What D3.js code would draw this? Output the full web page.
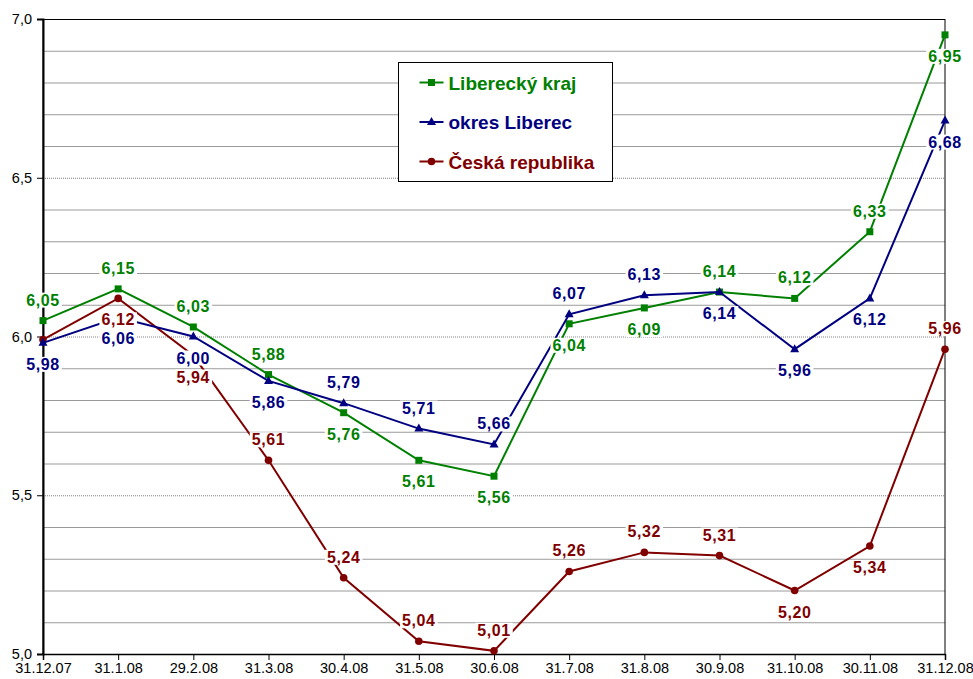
<!DOCTYPE html>
<html>
<head>
<meta charset="utf-8">
<script src="https://cdn.jsdelivr.net/npm/d3@7"></script>
<style>
    body { margin: 0; background: #fff; }
    svg { font-family: "Liberation Sans", Arial, sans-serif; }
    .axis path, .axis line { stroke: #000; }
    .axis text { font-size: 14.5px; fill: #000; }
    .minor { stroke: #9a9a9a; stroke-width: 1; }
    .major { stroke: #808080; stroke-width: 1; stroke-dasharray: 1,1; }
    .val { font-size: 16px; font-weight: bold; letter-spacing: 0.6px; }
</style>
</head>
<body>
<div id="chart"></div>
<script>
const dates = ['31.12.07', '31.1.08', '29.2.08', '31.3.08', '30.4.08', '31.5.08', '30.6.08',
    '31.7.08', '31.8.08', '30.9.08', '31.10.08', '30.11.08', '31.12.08'];
const krajValues = [6.05, 6.15, 6.03, 5.88, 5.76, 5.61, 5.56, 6.04, 6.09, 6.14, 6.12, 6.33, 6.95];
const okresValues = [5.98, 6.06, 6.00, 5.86, 5.79, 5.71, 5.66, 6.07, 6.13, 6.14, 5.96, 6.12, 6.68];
const crValues = [5.99, 6.12, 5.94, 5.61, 5.24, 5.04, 5.01, 5.26, 5.32, 5.31, 5.20, 5.34, 5.96];
const yTicks = [5.0, 5.5, 6.0, 6.5, 7.0];
const seriesNames = ['Liberecký kraj', 'okres Liberec', 'Česká republika'];

// where each value label sits: a = above, b = below, n = hidden
const krajSide = ['a', 'a', 'a', 'a', 'b', 'b', 'b', 'b', 'b', 'a', 'a', 'a', 'b'];
const okresSide = ['b', 'b', 'b', 'b', 'a', 'a', 'a', 'a', 'a', 'b', 'b', 'b', 'b'];
const crSide = ['n', 'b', 'b', 'a', 'a', 'a', 'a', 'a', 'a', 'a', 'b', 'b', 'a'];

const W = 973, H = 679;
const plotLeft = 43, plotRight = 945, plotTop = 19, plotBottom = 654;

const svg = d3.select('#chart').append('svg')
    .attr('width', W)
    .attr('height', H);

const xScale = d3.scalePoint().domain(dates).range([plotLeft, plotRight]);
const yScale = d3.scaleLinear().domain([5, 7]).range([plotBottom, plotTop]);
const fmt = v => d3.format('.2f')(v).replace('.', ',');

// gridlines every 0.1, dotted at labelled values
const grid = svg.append('g');
d3.range(51, 70).map(d => d / 10).forEach(v => {
    const isMajor = Math.abs(v * 2 - Math.round(v * 2)) < 1e-6;
    grid.append('line')
        .attr('class', isMajor ? 'major' : 'minor')
        .attr('x1', plotLeft).attr('x2', plotRight)
        .attr('y1', yScale(v) + 0.5).attr('y2', yScale(v) + 0.5);
});

// frame
svg.append('rect')
    .attr('x', plotLeft).attr('y', plotTop + 0.5)
    .attr('width', plotRight - plotLeft).attr('height', plotBottom - plotTop)
    .attr('fill', 'none').attr('stroke', '#000').attr('stroke-width', 1);

const xAxis = d3.axisBottom(xScale).tickSize(6).tickPadding(3);
const yAxis = d3.axisLeft(yScale).tickValues(yTicks).tickSize(6).tickPadding(5)
    .tickFormat(d => d3.format('.1f')(d).replace('.', ','));

svg.append('g')
    .attr('class', 'x axis')
    .attr('transform', 'translate(0,' + plotBottom + ')')
    .call(xAxis)
    .call(g => g.select('.domain').attr('stroke-width', 1.5));
svg.append('g')
    .attr('class', 'y axis')
    .attr('transform', 'translate(' + plotLeft + ',0)')
    .call(yAxis)
    .call(g => g.select('.domain').attr('stroke-width', 2));

const series = [
    { name: seriesNames[0], values: krajValues, side: krajSide, color: '#008000', marker: 'square' },
    { name: seriesNames[1], values: okresValues, side: okresSide, color: '#000080', marker: 'triangle' },
    { name: seriesNames[2], values: crValues, side: crSide, color: '#800000', marker: 'circle' }
];

const line = d3.line()
    .x((d, i) => xScale(dates[i]))
    .y(d => yScale(d));

function addMarker(g, type, color) {
    if (type === 'square') {
        g.append('rect').attr('x', -3.5).attr('y', -3.5).attr('width', 7).attr('height', 7).attr('fill', color);
    } else if (type === 'triangle') {
        g.append('path').attr('d', 'M0,-5L4.5,3L-4.5,3Z').attr('fill', color);
    } else {
        g.append('circle').attr('r', 3.8).attr('fill', color);
    }
}

const plot = svg.append('g');
// draw back to front: ČR, kraj, okres
[series[2], series[0], series[1]].forEach(s => {
    plot.append('path')
        .datum(s.values)
        .attr('fill', 'none')
        .attr('stroke', s.color)
        .attr('stroke-width', 2)
        .attr('d', line);
    s.values.forEach((v, i) => {
        const m = plot.append('g')
            .attr('transform', 'translate(' + xScale(dates[i]) + ',' + yScale(v) + ')');
        addMarker(m, s.marker, s.color);
    });
});

// value labels with white background
const labels = svg.append('g');
series.forEach(s => {
    s.values.forEach((v, i) => {
        if (s.side[i] === 'n') return;
        const x = xScale(dates[i]);
        const y = yScale(v) + (s.side[i] === 'a' ? -15 : 27);
        const g = labels.append('g');
        const t = g.append('text')
            .attr('class', 'val')
            .attr('x', x).attr('y', y)
            .attr('text-anchor', 'middle')
            .attr('fill', s.color)
            .text(fmt(v));
        const bb = t.node().getBBox();
        g.insert('rect', 'text')
            .attr('x', bb.x - 2).attr('y', bb.y + 1)
            .attr('width', bb.width + 4).attr('height', bb.height - 2)
            .attr('fill', '#fff');
    });
});

// legend
const legend = svg.append('g').attr('transform', 'translate(398.5,62.5)');
legend.append('rect')
    .attr('width', 214).attr('height', 119)
    .attr('fill', '#fff').attr('stroke', '#000').attr('stroke-width', 1);
series.forEach((s, i) => {
    const ly = 20 + i * 39.5;
    const g = legend.append('g').attr('transform', 'translate(0,' + ly + ')');
    g.append('line').attr('x1', 21).attr('x2', 45).attr('stroke', s.color).attr('stroke-width', 2);
    const m = g.append('g').attr('transform', 'translate(33,0)');
    addMarker(m, s.marker, s.color);
    g.append('text')
        .attr('x', 50).attr('y', 7)
        .attr('fill', s.color)
        .style('font-size', '19px').style('font-weight', 'bold')
        .text(s.name);
});
</script>
</body>
</html>
